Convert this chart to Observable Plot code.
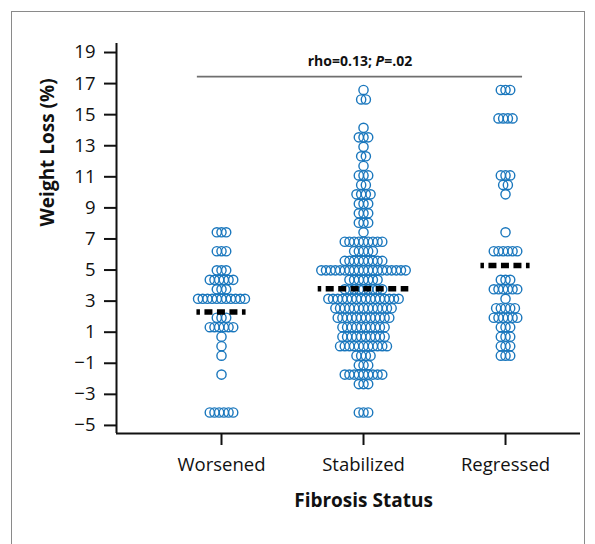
<!DOCTYPE html>
<html>
<head>
<meta charset="utf-8">
<script src="https://cdn.jsdelivr.net/npm/d3@7"></script>
<script src="https://cdn.jsdelivr.net/npm/@observablehq/plot@0.6"></script>
<style>
  body { margin: 0; background: #fff; }
  #wrap { position: relative; width: 595px; height: 544px; overflow: hidden; }
  #border { position: absolute; left: 11px; top: 11px; width: 574px; height: 580px; border: 1px solid #8a8a8a; box-sizing: border-box; }
  #chart { position: absolute; left: 0; top: 0; }
  #chart svg g[aria-label$="axis tick"] { stroke-width: 2px; }
  #chart svg .tick line { stroke-width: 2px; }
</style>
</head>
<body>
<div id="wrap"><div id="border"></div><div id="chart"></div></div>
<script>
// Fibrosis status groups along the x axis
const groups = ["Worsened", "Stabilized", "Regressed"];

// Weight loss (%) levels of each stacked row and how many patients sit on it
const worsenedLevels = [7.43, 6.21, 4.98, 4.37, 3.76, 3.15, 1.93, 1.32, 0.71, 0.10, -0.51, -1.73, -4.17];
const worsenedCounts = [3, 3, 3, 6, 3, 11, 3, 6, 1, 1, 1, 1, 6];

const stabilizedLevels = [16.59, 15.98, 14.15, 13.54, 12.93, 12.32, 11.70, 11.09, 10.48, 9.87, 9.26, 8.65, 8.04, 7.43,
  6.82, 6.21, 5.59, 4.98, 4.37, 3.76, 3.15, 2.54, 1.93, 1.32, 0.71, 0.10, -0.51, -1.12, -1.73, -2.34, -4.17];
const stabilizedCounts = [1, 2, 1, 3, 1, 2, 1, 3, 2, 4, 3, 3, 3, 1,
  9, 5, 9, 19, 7, 9, 16, 13, 12, 10, 10, 11, 4, 3, 9, 3, 3];

const regressedLevels = [16.59, 14.76, 11.09, 10.48, 9.87, 7.43, 6.21, 4.37, 3.76, 3.15, 2.54, 1.93, 1.32, 0.71, 0.10, -0.51];
const regressedCounts = [3, 4, 3, 2, 1, 1, 6, 3, 6, 1, 5, 6, 3, 3, 3, 3];

// Group means (dashed bars)
const groupMeans = [2.3, 3.8, 5.3];

// Correlation annotation
const rhoValue = "0.13";
const pValue = ".02";

// Y axis tick values
const yTicks = [-5, -3, -1, 1, 3, 5, 7, 9, 11, 13, 15, 17, 19];

// ---- layout helpers ----
const xDomain = [0.2606, 3.528];
const yDomain = [-5.52, 19.58];
const dotStep = 0.033;              // horizontal spacing of stacked dots, in group units
const meanHalfWidth = [0.173, 0.319, 0.173];

const levelSets = [
  [worsenedLevels, worsenedCounts],
  [stabilizedLevels, stabilizedCounts],
  [regressedLevels, regressedCounts]
];

// Expand each row into individual dots centred on the group position
const points = [];
levelSets.forEach(([levels, counts], g) => {
  levels.forEach((v, k) => {
    const n = counts[k];
    for (let j = 0; j < n; j++) {
      points.push({group: groups[g], value: v, x: g + 1 + (j - (n - 1) / 2) * dotStep});
    }
  });
});

const means = groupMeans.map((m, g) => ({group: groups[g], mean: m, x1: g + 1 - meanHalfWidth[g], x2: g + 1 + meanHalfWidth[g]}));

const statLabel = `rho=${rhoValue}; P=${pValue}`;

const chart = Plot.plot({
  width: 595,
  height: 544,
  marginLeft: 116,
  marginRight: 15,
  marginTop: 43,
  marginBottom: 111,
  style: {fontFamily: "'Open Sans', sans-serif", fontSize: "18.5px", color: "#111", background: "transparent", overflow: "visible"},
  x: {domain: xDomain, ticks: [1, 2, 3], tickFormat: i => groups[i - 1], tickSize: 12, tickPadding: 12, label: null},
  y: {domain: yDomain, ticks: yTicks, tickSize: 12, tickPadding: 9, label: null},
  marks: [
    Plot.ruleX([xDomain[0]], {stroke: "#111", strokeWidth: 2}),
    Plot.ruleY([yDomain[0]], {stroke: "#111", strokeWidth: 2}),
    Plot.dot(points, {x: "x", y: "value", r: 4.6, stroke: "#1a77bd", strokeWidth: 1.4, fill: "none"}),
    Plot.ruleY(means, {y: "mean", x1: "x1", x2: "x2", stroke: "#000", strokeWidth: 5.5, strokeDasharray: "8,4.5", strokeDashoffset: 4.5}),
    Plot.ruleY([17.45], {x1: () => 0.83, x2: () => 3.12, stroke: "#6f6f6f", strokeWidth: 1.6}),
    Plot.text([statLabel], {x: () => 1.975, y: () => 18.45, text: d => d, fontWeight: "bold", fontSize: 14}),
    Plot.text(["Weight Loss (%)"], {text: d => d, frameAnchor: "left", rotate: -90, dx: -69, dy: -12, fontWeight: "bold", fontSize: 19}),
    Plot.text(["Fibrosis Status"], {text: d => d, x: () => 2, frameAnchor: "bottom", dy: 73, fontWeight: "bold", fontSize: 19})
  ]
});

// Italicise the P of the annotation
d3.select(chart).selectAll("text").filter(function () { return this.textContent === statLabel; }).each(function () {
  const t = d3.select(this);
  t.text(null);
  t.append("tspan").text(`rho=${rhoValue}; `);
  t.append("tspan").attr("font-style", "italic").text("P");
  t.append("tspan").text(`=${pValue}`);
});

document.getElementById("chart").append(chart);
</script>
</body>
</html>
